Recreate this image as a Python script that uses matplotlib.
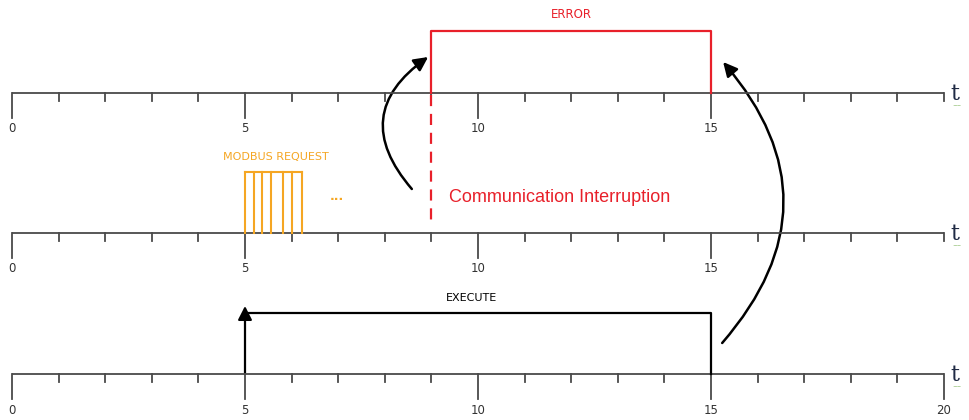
import matplotlib
matplotlib.use("Agg")
import matplotlib.pyplot as plt
from matplotlib.patches import FancyArrowPatch

# timing data (time units)
ticks = list(range(0, 21))
top_labels = [0, 5, 10, 15]
bottom_labels = [0, 5, 10, 15, 20]
error_start, error_end = 9, 15
interruption_t = 9
modbus_pulses = [5.0, 5.2, 5.37, 5.56, 5.82, 6.0, 6.22]
execute_start, execute_end = 5, 15

fig = plt.figure(figsize=(9.69, 4.2), dpi=100)
ax = fig.add_axes([0, 0, 1, 1])
ax.set_xlim(-12 / 46.6, (969 - 12) / 46.6)
ax.set_ylim(420, 0)   # y in pixel rows, top to bottom
ax.axis("off")

axis_col = "#4a4a4a"
red = "#e8202a"
orange = "#f5a623"


def time_axis(y, labels, major_end):
    ax.plot([ticks[0], ticks[-1]], [y, y], color=axis_col, lw=1.3, solid_capstyle="butt")
    for t in ticks:
        major = (t % 5 == 0) and (t != ticks[-1] or major_end)
        ax.plot([t, t], [y, y + (25 if major else 8)], color=axis_col, lw=1.3)
    for t in labels:
        ax.text(t, y + 36, str(t), ha="center", va="center", fontsize=8.5, color="#333333")
    ax.text(20.14, y + 1, "t", ha="left", va="center", fontsize=16,
            family="DejaVu Serif", color="#1f2a44")
    ax.text(20.27, y + 13, "~~", ha="center", va="center", fontsize=4, color="#5aa02c")


top_y, mid_y, bot_y = 93, 233, 374
time_axis(top_y, top_labels, False)
time_axis(mid_y, top_labels, False)
time_axis(bot_y, bottom_labels, True)

# ERROR pulse
ax.plot([error_start, error_start, error_end, error_end], [top_y, 31, 31, top_y],
        color=red, lw=1.6)
ax.text((error_start + error_end) / 2, 15, "ERROR", ha="center", va="center",
        fontsize=8.5, color=red)
ax.plot([interruption_t, interruption_t], [top_y + 2, 220], color=red, lw=1.6,
        linestyle=(0, (5, 3.5)))
ax.text(interruption_t + 0.38, 197, "Communication Interruption", ha="left", va="center",
        fontsize=13, family="Liberation Sans", color=red)

# MODBUS request burst
for t in modbus_pulses:
    ax.plot([t, t], [mid_y, 172], color=orange, lw=1.5)
ax.plot([modbus_pulses[0], modbus_pulses[-1]], [172, 172], color=orange, lw=1.5)
ax.text(5.67, 157, "MODBUS REQUEST", ha="center", va="center", fontsize=8, color=orange)
ax.text(6.97, 196, "...", ha="center", va="center", fontsize=9, fontweight="bold",
        color=orange)

# EXECUTE pulse
ax.plot([execute_start, execute_end, execute_end], [313, 313, bot_y], color="black", lw=1.6)
ax.add_patch(FancyArrowPatch((execute_start, bot_y), (execute_start, 306),
                             arrowstyle="-|>,head_length=0.55,head_width=0.28",
                             mutation_scale=15, color="black", lw=1.6,
                             shrinkA=0, shrinkB=0))
ax.text(9.87, 298, "EXECUTE", ha="center", va="center", fontsize=8, color="black")

# curved arrows
ax.add_patch(FancyArrowPatch((8.58, 189), (8.93, 57),
                             connectionstyle="arc3,rad=-0.55",
                             arrowstyle="-|>,head_length=0.6,head_width=0.3",
                             mutation_scale=14, color="black", lw=1.8,
                             shrinkA=0, shrinkB=0))
ax.add_patch(FancyArrowPatch((15.24, 343), (15.26, 62),
                             connectionstyle="arc3,rad=0.43",
                             arrowstyle="-|>,head_length=0.6,head_width=0.3",
                             mutation_scale=14, color="black", lw=1.8,
                             shrinkA=0, shrinkB=0))

fig.savefig("out.png", dpi=100, facecolor="white")
